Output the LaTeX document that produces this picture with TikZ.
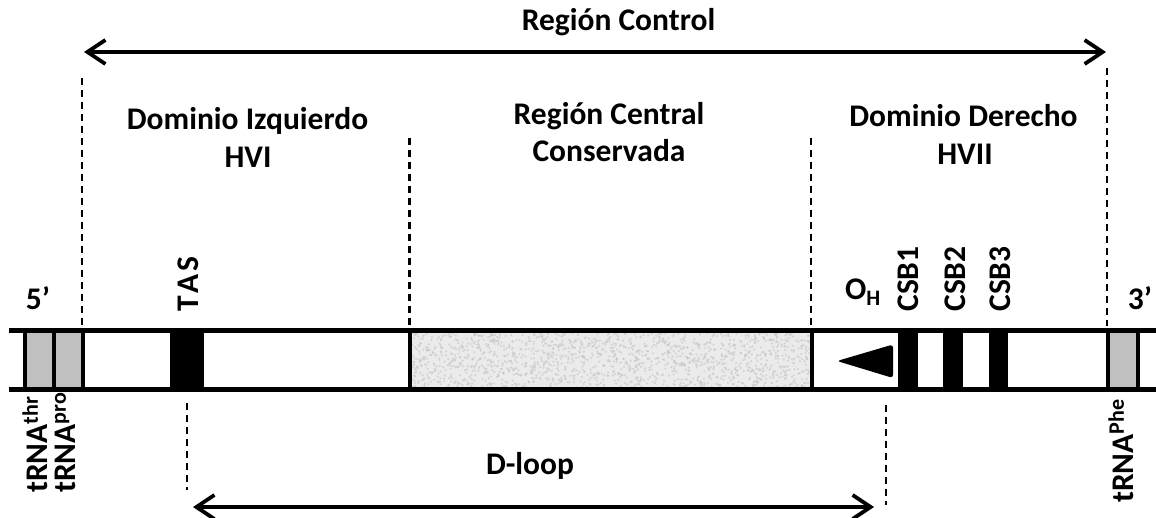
\documentclass[tikz,border=0pt]{standalone}
\usepackage{fontspec}
\setmainfont{Carlito}
\usetikzlibrary{arrows.meta}
\definecolor{trnagray}{HTML}{C0C0C0}
\definecolor{coregray}{HTML}{EBEBEB}
\definecolor{speckle}{HTML}{C4C4C4}
\begin{document}
\begin{tikzpicture}[x=1pt,y=-1pt,
  lbl/.style={font=\fontsize{31.5}{38}\selectfont\bfseries, inner sep=0pt},
  guide/.style={line width=2.8pt, dash pattern=on 7pt off 5pt},
  span/.style={line width=3.8pt,
    {Straight Barb[length=18pt,width=24pt]}-{Straight Barb[length=18pt,width=24pt]}},
  strand/.style={line width=5pt},
  divider/.style={line width=4pt},
  blockbox/.style={fill=black},
  trnabox/.style={fill=trnagray},
]
\useasboundingbox (0,0) rectangle (1156,518);

% ---- fills inside the strand ----
\fill[trnabox] (25,331) rectangle (53.5,389.5);
\fill[trnabox] (53.5,331) rectangle (82.5,389.5);
\fill[trnabox] (1108,331) rectangle (1138,389.5);
\fill[coregray] (410,331) rectangle (812,389.5);
\begin{scope}
  \clip (410,331) rectangle (812,389.5);
  \pgfmathsetseed{11}
  \foreach \i in {1,...,1600}{
    \pgfmathsetmacro\px{410+402*rnd}
    \pgfmathsetmacro\py{333+55*rnd}
    \fill[speckle, opacity=0.6] (\px,\py) circle (1.2pt);
  }
\end{scope}
\fill[blockbox] (170,331) rectangle (204,389.5);
\fill[blockbox] (898,331) rectangle (918,389.5);
\fill[blockbox] (943,331) rectangle (963,389.5);
\fill[blockbox] (989,331) rectangle (1008,389.5);
\fill[rounded corners=3pt] (837,361) -- (893,344.5) -- (893,378) -- cycle;

% ---- segment dividers ----
\foreach \x in {25,53.5,82.5,410,812,1108,1138}
  \draw[divider] (\x,331) -- (\x,389.5);

% ---- the two strands ----
\draw[strand] (9,331) -- (1156,331);
\draw[strand] (9,389.5) -- (1156,389.5);

% ---- guide lines ----
\coordinate (g1t) at (82,78);    \coordinate (g1b) at (82,328);
\coordinate (g2t) at (409.5,138); \coordinate (g2b) at (409.5,328);
\coordinate (g3t) at (811,138);  \coordinate (g3b) at (811,328);
\coordinate (g4t) at (1107,68);  \coordinate (g4b) at (1107,326);
\coordinate (d1t) at (187,403);  \coordinate (d1b) at (187,490);
\coordinate (d2t) at (886,405);  \coordinate (d2b) at (886,505);
\draw[guide] (g1t) -- (g1b);
\draw[guide] (g2t) -- (g2b);
\draw[guide] (g3t) -- (g3b);
\draw[guide] (g4t) -- (g4b);
\draw[guide] (d1t) -- (d1b);
\draw[guide] (d2t) -- (d2b);

% ---- span arrows ----
\coordinate (rcL) at (84,52);  \coordinate (rcR) at (1106,52);
\coordinate (dlL) at (193,507); \coordinate (dlR) at (874,507);
\draw[span] (rcL) -- (rcR);
\draw[span] (dlL) -- (dlR);

% ---- labels ----
\node[lbl, anchor=base] (rc) at (618.5,31) {Región Control};
\node[lbl, anchor=base] (di1) at (247.5,130) {Dominio Izquierdo};
\node[lbl, anchor=base] (di2) at (248,168) {HVI};
\node[lbl, anchor=base] (rcc1) at (609,125) {Región Central};
\node[lbl, anchor=base] (rcc2) at (609,162) {Conservada};
\node[lbl, anchor=base] (dd1) at (963.5,127) {Dominio Derecho};
\node[lbl, anchor=base] (dd2) at (965,165) {HVII};
\node[lbl, anchor=base] (five) at (38,310) {5’};
\node[lbl, anchor=base] (three) at (1140,310) {3’};
\node[lbl, anchor=base] (oh) at (863,300) {O\textsubscript{H}};
\node[lbl, rotate=90] (tas) at (188,284) {T\kern2.5pt A\kern2.5pt S};
\node[lbl, rotate=90] (csb1) at (908,279) {CSB1};
\node[lbl, rotate=90] (csb2) at (955,279) {CSB2};
\node[lbl, rotate=90] (csb3) at (1000,279) {CSB3};
\node[lbl, rotate=90, anchor=base west] (thr) at (47,493) {tRNA\textsuperscript{thr}};
\node[lbl, rotate=90, anchor=base west] (pro) at (75,493) {tRNA\textsuperscript{pro}};
\node[lbl, rotate=90, anchor=base west] (phe) at (1133,503) {tRNA\textsuperscript{Phe}};
\node[lbl, anchor=base] (dloop) at (530,474) {D-loop};
\end{tikzpicture}
\end{document}
